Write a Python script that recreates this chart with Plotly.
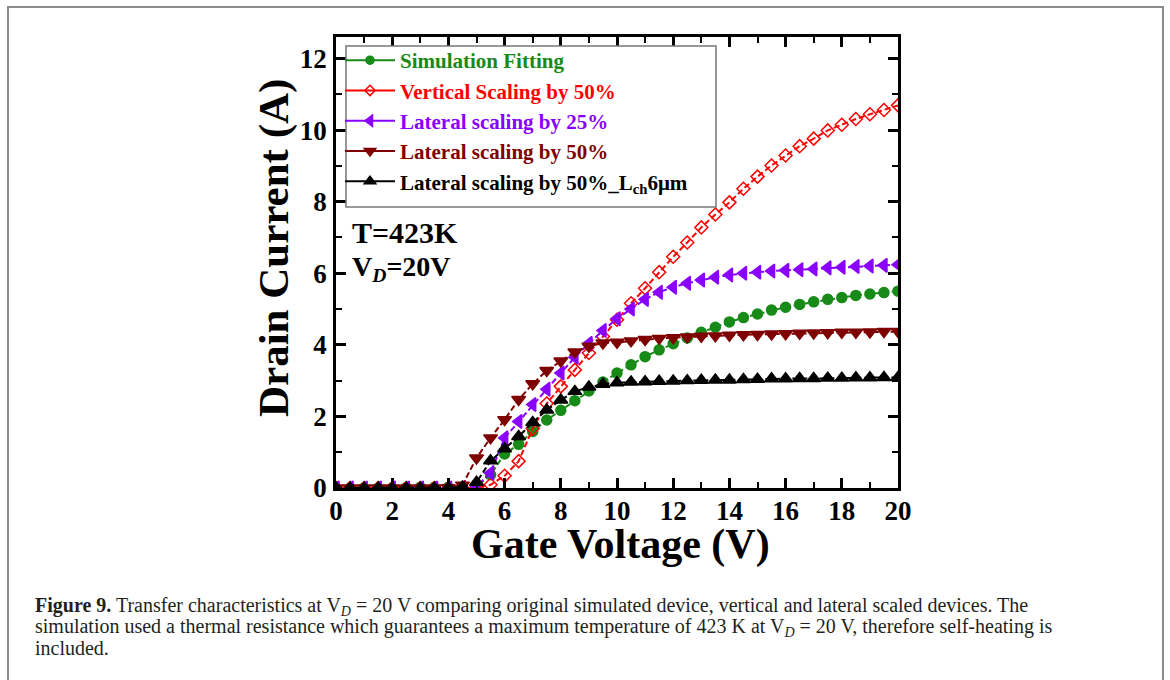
import plotly.graph_objects as go

# Gate voltage (V)
gate_v = [0.0, 0.5, 1.0, 1.5, 2.0, 2.5, 3.0, 3.5, 4.0, 4.5,
          5.0, 5.5, 6.0, 6.5, 7.0, 7.5, 8.0, 8.5, 9.0, 9.5,
          10.0, 10.5, 11.0, 11.5, 12.0, 12.5, 13.0, 13.5, 14.0, 14.5,
          15.0, 15.5, 16.0, 16.5, 17.0, 17.5, 18.0, 18.5, 19.0, 19.5, 20.0]

# Drain current (A)
sim_fitting = [0.0, 0.0, 0.0, 0.0, 0.0, 0.01, 0.02, 0.02, 0.02, 0.02,
               0.03, 0.37, 0.95, 1.22, 1.58, 1.90, 2.17, 2.44, 2.71, 2.96,
               3.21, 3.44, 3.67, 3.86, 4.03, 4.19, 4.35, 4.49, 4.64, 4.76,
               4.86, 4.97, 5.05, 5.13, 5.20, 5.27, 5.32, 5.38, 5.42, 5.46, 5.50]
vertical_50 = [0.0, 0.0, 0.0, 0.0, 0.0, 0.0, 0.0, 0.0, 0.0, 0.0,
               0.01, 0.09, 0.34, 0.75, 1.66, 2.36, 2.84, 3.30, 3.77, 4.23,
               4.70, 5.16, 5.58, 6.03, 6.46, 6.86, 7.28, 7.64, 7.98, 8.36,
               8.70, 9.01, 9.29, 9.55, 9.76, 9.99, 10.15, 10.31, 10.44, 10.56, 10.69]
lateral_25 = [0.0, 0.0, 0.0, 0.0, 0.0, 0.0, 0.0, 0.0, 0.0, 0.01,
              0.05, 0.42, 1.40, 1.86, 2.33, 2.76, 3.21, 3.65, 4.04, 4.40,
              4.73, 5.00, 5.27, 5.47, 5.61, 5.72, 5.81, 5.89, 5.95, 6.00,
              6.03, 6.06, 6.08, 6.10, 6.12, 6.15, 6.17, 6.19, 6.20, 6.22, 6.24]
lateral_50 = [0.0, 0.0, 0.0, 0.0, 0.0, 0.0, 0.0, 0.0, 0.01, 0.08,
              0.84, 1.40, 1.91, 2.47, 2.91, 3.28, 3.55, 3.80, 3.96, 4.05,
              4.07, 4.11, 4.15, 4.18, 4.20, 4.22, 4.24, 4.25, 4.27, 4.28,
              4.29, 4.30, 4.31, 4.32, 4.33, 4.34, 4.35, 4.35, 4.36, 4.37, 4.37]
lateral_50_lch6 = [0.0, 0.0, 0.0, 0.0, 0.0, 0.0, 0.0, 0.0, 0.01, 0.03,
                   0.16, 0.76, 1.10, 1.44, 1.83, 2.18, 2.46, 2.70, 2.82, 2.90,
                   2.94, 2.96, 2.97, 2.98, 2.99, 3.00, 3.01, 3.02, 3.02, 3.03,
                   3.04, 3.05, 3.05, 3.06, 3.06, 3.07, 3.07, 3.08, 3.08, 3.09, 3.09]

series_names = ["Simulation Fitting", "Vertical Scaling by 50%", "Lateral scaling by 25%",
                "Lateral scaling by 50%", "Lateral scaling by 50%_L<sub>ch</sub>6\u03bcm"]
series_values = [sim_fitting, vertical_50, lateral_25, lateral_50, lateral_50_lch6]
colors = ["#178a17", "#ff0000", "#8a00ff", "#7f0000", "#000000"]
symbols = ["circle", "diamond-open", "triangle-left", "triangle-down", "triangle-up"]
sizes = [10, 10, 12, 12, 12]

caption_lines = [
    "<b>Figure 9.</b> Transfer characteristics at V<sub><i>D</i></sub> = 20 V comparing original simulated device, vertical and lateral scaled devices. The",
    "simulation used a thermal resistance which guarantees a maximum temperature of 423 K at V<sub><i>D</i></sub> = 20 V, therefore self-heating is",
    "included.",
]

SERIF = "Liberation Serif, Times New Roman, serif"

fig = go.Figure()
for name, vals, c, s, sz in zip(series_names, series_values, colors, symbols, sizes):
    fig.add_trace(go.Scatter(
        x=gate_v, y=vals, mode="lines+markers", showlegend=False,
        line=dict(color=c, width=2, dash="6px,3px"),
        marker=dict(symbol=s, size=sz, color=c, line=dict(color=c, width=1.5)),
    ))
# legend entries (solid line + marker as in the original legend)
for name, c, s, sz in zip(series_names, colors, symbols, sizes):
    fig.add_trace(go.Scatter(
        x=[None], y=[None], mode="lines+markers",
        name=f'<span style="color:{c}">{name}</span>',
        line=dict(color=c, width=2),
        marker=dict(symbol=s, size=sz - 2, color=c, line=dict(color=c, width=1.5)),
    ))

W, H = 1170, 680
L, R, T, B = 336, 1170 - 898, 37, 680 - 488
pw, ph = W - L - R, H - T - B

def px(xp):
    return (xp - L) / pw

def py(yp):
    return (H - B - yp) / ph

axis_common = dict(
    showline=True, linewidth=2.5, linecolor="black", mirror="allticks",
    ticks="inside", ticklen=10, tickwidth=2.5, tickcolor="black",
    showgrid=False, zeroline=False,
    tickfont=dict(family=SERIF, size=27, color="black", weight="bold"),
    minor=dict(ticks="inside", ticklen=6, tickwidth=2, tickcolor="black", dtick=1, showgrid=False),
)

fig.update_layout(
    width=W, height=H,
    margin=dict(l=L, r=R, t=T, b=B),
    paper_bgcolor="white", plot_bgcolor="white",
    xaxis=dict(range=[0, 20], dtick=2, tick0=0, ticklabelstandoff=-3, **axis_common),
    yaxis=dict(range=[0, 12.6], dtick=2, tick0=0, ticklabelstandoff=1, **axis_common),
    legend=dict(
        x=px(340), y=py(40), xanchor="left", yanchor="top",
        bgcolor="rgba(0,0,0,0)", borderwidth=0,
        font=dict(family=SERIF, size=21, color="black", weight="bold"),
        itemwidth=50, tracegroupgap=0,
    ),
    showlegend=True,
)

annotations = [
    dict(text="Gate Voltage (V)", x=px(620), y=py(544), xref="paper", yref="paper",
         showarrow=False, xanchor="center", yanchor="middle",
         font=dict(family=SERIF, size=42, color="black", weight="bold")),
    dict(text="Drain Current (A)", x=px(274), y=py(248), xref="paper", yref="paper",
         showarrow=False, xanchor="center", yanchor="middle", textangle=-90,
         font=dict(family=SERIF, size=43, color="black", weight="bold")),
    dict(text="T=423K", x=px(350), y=py(232), xref="paper", yref="paper",
         showarrow=False, xanchor="left", yanchor="middle",
         font=dict(family=SERIF, size=30, color="black", weight="bold")),
    dict(text="V<sub><i>D</i></sub>=20V", x=px(350), y=py(268), xref="paper", yref="paper",
         showarrow=False, xanchor="left", yanchor="middle",
         font=dict(family=SERIF, size=28, color="black", weight="bold")),
]
for i, line in enumerate(caption_lines):
    annotations.append(dict(
        text=line, x=px(33), y=py(606 + 21 * i), xref="paper", yref="paper", showarrow=False,
        xanchor="left", yanchor="middle", align="left",
        font=dict(family=SERIF, size=20, color="#231f20")))
fig.update_layout(annotations=annotations)

# outer frame of the figure
fig.add_shape(type="rect", xref="paper", yref="paper",
              x0=px(8), x1=px(1163), y0=py(7), y1=py(700),
              line=dict(color="#8c8c8c", width=2), fillcolor="rgba(0,0,0,0)", layer="below")
# legend box
fig.add_shape(type="rect", xref="paper", yref="paper",
              x0=px(346), x1=px(716), y0=py(46), y1=py(207),
              line=dict(color="#777777", width=1.5), fillcolor="white", layer="above")

fig.write_html("out.html")
